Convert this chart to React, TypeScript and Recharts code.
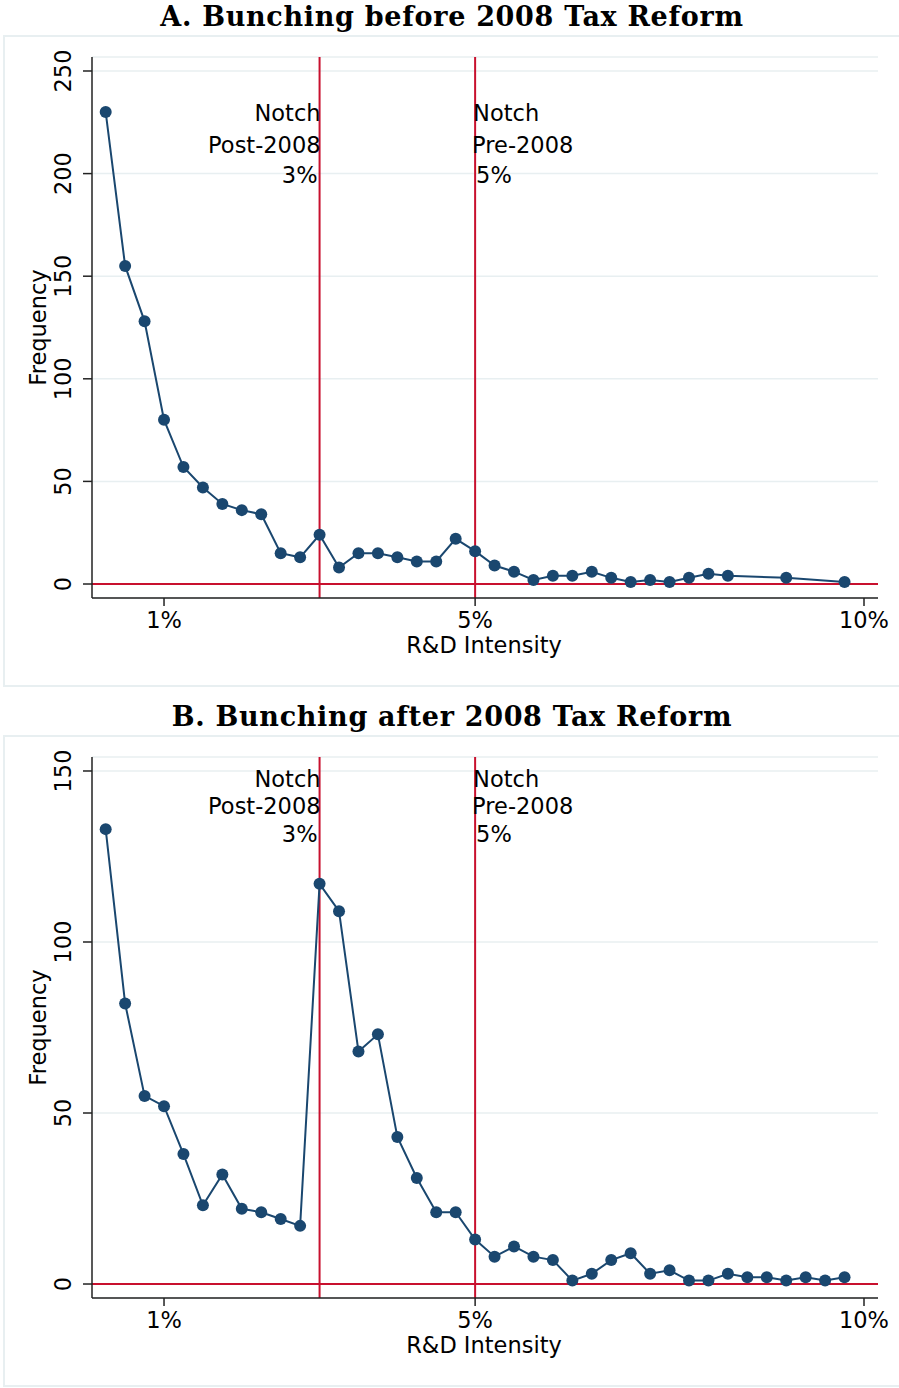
import React from "react";
import {
  LineChart,
  Line,
  XAxis,
  YAxis,
  CartesianGrid,
  ReferenceLine,
} from "recharts";

// R&D intensity bins (%) and firm counts
const intensityA = [
  0.25, 0.5, 0.75, 1, 1.25, 1.5, 1.75, 2, 2.25, 2.5, 2.75, 3, 3.25, 3.5, 3.75,
  4, 4.25, 4.5, 4.75, 5, 5.25, 5.5, 5.75, 6, 6.25, 6.5, 6.75, 7, 7.25, 7.5,
  7.75, 8, 8.25, 9, 9.75,
];
const freqA = [
  230, 155, 128, 80, 57, 47, 39, 36, 34, 15, 13, 24, 8, 15, 15, 13, 11, 11, 22,
  16, 9, 6, 2, 4, 4, 6, 3, 1, 2, 1, 3, 5, 4, 3, 1,
];

const intensityB = [
  0.25, 0.5, 0.75, 1, 1.25, 1.5, 1.75, 2, 2.25, 2.5, 2.75, 3, 3.25, 3.5, 3.75,
  4, 4.25, 4.5, 4.75, 5, 5.25, 5.5, 5.75, 6, 6.25, 6.5, 6.75, 7, 7.25, 7.5,
  7.75, 8, 8.25, 8.5, 8.75, 9, 9.25, 9.5, 9.75,
];
const freqB = [
  133, 82, 55, 52, 38, 23, 32, 22, 21, 19, 17, 117, 109, 68, 73, 43, 31, 21,
  21, 13, 8, 11, 8, 7, 1, 3, 7, 9, 3, 4, 1, 1, 3, 2, 2, 1, 2, 1, 2,
];

const xTicks = [1, 5, 10];
const yTicksA = [0, 50, 100, 150, 200, 250];
const yTicksB = [0, 50, 100, 150];

const notchPost = { x: 3, lines: ["Notch", "Post-2008", "3%"] };
const notchPre = { x: 5, lines: ["Notch", "Pre-2008", "5%"] };

const NAVY = "#1a476f";
const RED = "#c8102e";
const GRID = "#e8eff1";
const AXIS = "#222";
const FONT = "'DejaVu Sans', sans-serif";
const FS = 22.5;

const YTick = (props: any) => {
  const { y, payload } = props;
  const cx = 63;
  return (
    <text
      x={cx}
      y={y}
      transform={`rotate(-90, ${cx}, ${y})`}
      textAnchor="middle"
      dominantBaseline="central"
      fontSize={FS}
      fill="#000"
      fontFamily={FONT}
    >
      {payload.value}
    </text>
  );
};

// small per-line nudges so the ragged edges look like the original
const leftNudge = [1, 1, -2];
const rightNudge = [-2, -3, 1];

const notchLabel =
  (lines: string[], side: "left" | "right", offsets: number[]) =>
  (props: any) => {
    const vb = props.viewBox || {};
    return (
      <g>
        {lines.map((t, i) => (
          <text
            key={i}
            x={vb.x + (side === "left" ? leftNudge[i] : rightNudge[i])}
            y={vb.y + offsets[i]}
            textAnchor={side === "left" ? "end" : "start"}
            fontSize={FS}
            fill="#000"
            fontFamily={FONT}
          >
            {t}
          </text>
        ))}
      </g>
    );
  };

interface PanelProps {
  title: string;
  top: number;
  xs: number[];
  ys: number[];
  yTicks: number[];
  yDomain: [number, number];
  labelOffsets: number[];
}

const Panel: React.FC<PanelProps> = ({
  title,
  top,
  xs,
  ys,
  yTicks,
  yDomain,
  labelOffsets,
}) => {
  const data = xs.map((x, i) => ({ x, freq: ys[i] }));
  return (
    <>
      <div
        style={{
          position: "absolute",
          left: 0,
          top: top - 35,
          width: 904,
          height: 34,
          lineHeight: "34px",
          textAlign: "center",
          fontFamily: "'DejaVu Serif', serif",
          fontWeight: 700,
          fontSize: 27,
          letterSpacing: 0.7,
          color: "#000",
        }}
      >
        {title}
      </div>
      <div
        style={{
          position: "absolute",
          left: 3,
          top: top,
          width: 896,
          height: 652,
          boxSizing: "border-box",
          border: `2px solid ${GRID}`,
          borderRight: "none",
        }}
      />
      <div style={{ position: "absolute", left: 0, top: top }}>
        <LineChart
          width={899}
          height={652}
          data={data}
          margin={{ top: 22, right: 21, bottom: 0, left: 0 }}
          style={{ fontFamily: FONT }}
        >
          <CartesianGrid vertical={false} stroke={GRID} strokeWidth={1.5} />
          <XAxis
            dataKey="x"
            type="number"
            domain={[0.074, 10.18]}
            allowDataOverflow
            ticks={xTicks}
            tickFormatter={(v) => `${v}%`}
            height={89}
            tickSize={8}
            tickMargin={6}
            stroke={AXIS}
            strokeWidth={1.5}
            tick={{ fill: "#000", fontSize: FS }}
            label={(p: any) => {
              const vb = p.viewBox || { x: 92, y: 598, width: 786 };
              return (
                <text
                  x={vb.x + vb.width / 2 - 1}
                  y={vb.y + 55}
                  textAnchor="middle"
                  fontSize={FS}
                  fill="#000"
                  fontFamily={FONT}
                >
                  R&amp;D Intensity
                </text>
              );
            }}
          />
          <YAxis
            type="number"
            domain={yDomain}
            allowDataOverflow
            ticks={yTicks}
            width={92}
            tickSize={9}
            stroke={AXIS}
            strokeWidth={1.5}
            tick={<YTick />}
            label={(p: any) => {
              const vb = p.viewBox || { x: 0, y: 22, height: 541 };
              const cy = vb.y + vb.height / 2;
              return (
                <text
                  x={45.5}
                  y={cy}
                  transform={`rotate(-90, 45.5, ${cy})`}
                  textAnchor="middle"
                  fontSize={FS}
                  fill="#000"
                  fontFamily={FONT}
                >
                  Frequency
                </text>
              );
            }}
          />
          <ReferenceLine y={0} stroke={RED} strokeWidth={2} />
          <ReferenceLine
            x={notchPost.x}
            stroke={RED}
            strokeWidth={2}
            label={notchLabel(notchPost.lines, "left", labelOffsets)}
          />
          <ReferenceLine
            x={notchPre.x}
            stroke={RED}
            strokeWidth={2}
            label={notchLabel(notchPre.lines, "right", labelOffsets)}
          />
          <Line
            type="linear"
            dataKey="freq"
            stroke={NAVY}
            strokeWidth={2}
            dot={{ r: 6, fill: NAVY, stroke: "none" }}
            activeDot={false}
            isAnimationActive={false}
          />
        </LineChart>
      </div>
    </>
  );
};

export default function App() {
  return (
    <div
      style={{
        position: "absolute",
        left: 0,
        top: 0,
        width: 899,
        height: 1388,
        background: "#fff",
      }}
    >
      <Panel
        title="A. Bunching before 2008 Tax Reform"
        top={35}
        xs={intensityA}
        ys={freqA}
        yTicks={yTicksA}
        yDomain={[-6.82, 256.82]}
        labelOffsets={[64, 95.5, 126]}
      />
      <Panel
        title="B. Bunching after 2008 Tax Reform"
        top={735}
        xs={intensityB}
        ys={freqB}
        yTicks={yTicksB}
        yDomain={[-4.09, 154.09]}
        labelOffsets={[30, 57, 85]}
      />
    </div>
  );
}
